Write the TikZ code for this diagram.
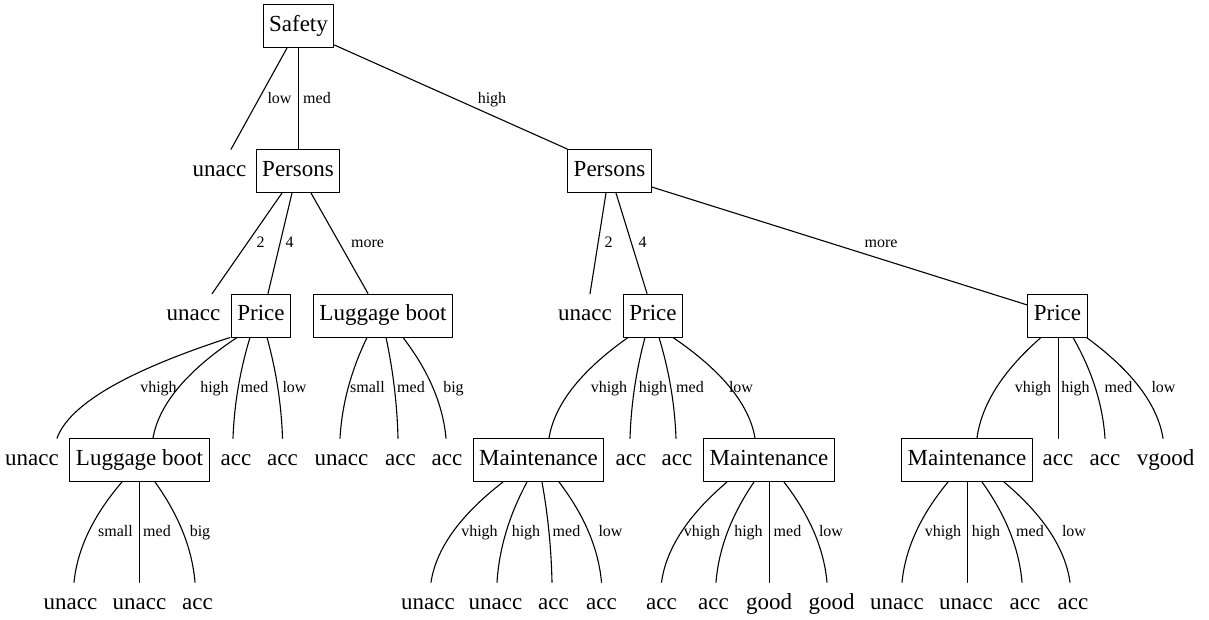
\documentclass[tikz,border=0pt]{standalone}
\usepackage{fontspec}
\setmainfont{Liberation Serif}
\usetikzlibrary{calc}
\newcommand{\bigtxt}{\fontsize{23}{26}\selectfont}
\newcommand{\smalltxt}{\fontsize{16}{18}\selectfont}
\tikzset{
  attr/.style={draw, line width=1pt, font=\bigtxt, minimum height=43pt, inner xsep=6pt, text height=16pt, text depth=6pt},
  leaf/.style={font=\bigtxt, minimum height=43pt, inner sep=0pt, text height=16pt, text depth=6pt},
  lbl/.style={font=\smalltxt, inner sep=0pt, text height=11pt, text depth=3pt},
  branch/.style={line width=1.1pt}
}
\begin{document}
\begin{tikzpicture}[x=1pt,y=-1pt,line join=round,line cap=round]
  \useasboundingbox (0,0) rectangle (1209,619);
  % attribute boxes
  \node[attr] (safety) at (298.5,26) {Safety};
  \node[attr] (persA) at (298,171) {Persons};
  \node[attr] (persB) at (609.5,171) {Persons};
  \node[attr] (priceA) at (261,315.5) {Price};
  \node[attr] (lugA) at (383,315.5) {Luggage boot};
  \node[attr] (priceB) at (653,315.5) {Price};
  \node[attr] (priceC) at (1057.5,315.5) {Price};
  \node[attr] (lugB) at (139.5,460) {Luggage boot};
  \node[attr] (mainA) at (538.5,460) {Maintenance};
  \node[attr] (mainB) at (769,460) {Maintenance};
  \node[attr] (mainC) at (967,460) {Maintenance};
  % class leaves
  \foreach \n/\lx/\ly/\t in {u1/219.5/171/unacc, u2a/193.5/315.5/unacc, u2b/585/315.5/unacc,
      u3a/32/460/unacc, a3a/236/460/acc, a3b/282.5/460/acc, u3b/341.5/460/unacc,
      a3c/400.5/460/acc, a3d/447/460/acc, a3e/631/460/acc, a3f/677/460/acc,
      a3g/1058/460/acc, a3h/1105/460/acc, vg/1165.5/460/vgood,
      u4a/70.5/604/unacc, u4b/139.5/604/unacc, a4a/197.5/604/acc,
      u4c/428/604/unacc, u4d/495.5/604/unacc, a4b/553.5/604/acc, a4c/601.5/604/acc,
      a4d/661.5/604/acc, a4e/713.5/604/acc, g4a/769/604/good, g4b/831.5/604/good,
      u4e/897/604/unacc, u4f/966/604/unacc, a4f/1025/604/acc, a4g/1073/604/acc}
    \node[leaf] (\n) at (\lx,\ly) {\t};
  % straight branches
  \foreach \src/\sa/\dst/\sb/\txt/\lx/\ly in {safety/-11.5/u1/11.5/low/279.5/99,
      safety/0/persA/0.5/med/317/99,
      persA/-16/u2a/18.5/2/260.5/243.5, persA/-6/priceA/7/4/289.5/243.5,
      persA/13/lugA/-15/more/367.5/243.5,
      persB/-3.5/u2b/5/2/608.5/243.5, persB/6.5/priceB/-6/4/642.5/243.5}
  {
    \draw[branch] ([xshift=\sa pt]\src.south) -- ([xshift=\sb pt]\dst.north);
    \node[lbl] (l-\dst) at (\lx,\ly) {\txt};
  }
  \draw[branch] ([yshift=3pt]safety.south east) -- (persB.north west);
  \node[lbl] (l-persB) at (492,99) {high};
  \draw[branch] ([yshift=6pt]persB.south east) -- ([yshift=10.5pt]priceC.west);
  \node[lbl] (l-priceC) at (881,243.5) {more};
  % curved branches
  \foreach \src/\sa/\dst/\sb/\txt/\lx/\ly in {
      priceA/-31/u3a/25/vhigh/158.5/388, priceA/-24/lugB/13.5/high/214.5/388,
      priceA/-11/a3a/-3/med/254.5/388, priceA/6/a3b/0/low/294.5/388,
      lugA/-16/u3b/-1.5/small/367.5/388, lugA/3/a3c/-2.5/med/411/388,
      lugA/20/a3d/-1/big/453.5/388,
      priceB/-25/mainA/10.5/vhigh/609/388, priceB/-8/a3e/-1/high/653/388,
      priceB/6/a3f/-1/med/690/388, priceB/20/mainB/-14/low/741/388,
      priceC/-16.5/mainC/10/vhigh/1033/388, priceC/1/a3g/0.5/high/1075.5/388,
      priceC/15.5/a3h/0/med/1118.5/388, priceC/29/vg/-2.5/low/1163.5/388,
      lugB/-17.5/u4a/3.5/small/115.5/532.5, lugB/0/u4b/0/med/157/532.5,
      lugB/15.5/a4a/-2.5/big/200/532.5,
      mainA/-35.5/u4c/3/vhigh/479.5/532.5, mainA/-11.5/u4d/1.5/high/526/532.5,
      mainA/3.5/a4b/-1.5/med/566.5/532.5, mainA/20.5/a4c/0/low/610.5/532.5,
      mainB/-42/a4d/0/vhigh/702/532.5, mainB/-15/a4e/2.5/high/748.5/532.5,
      mainB/0.5/g4a/0.5/med/787.5/532.5, mainB/15/g4b/-4.5/low/831/532.5,
      mainC/-19/u4e/5/vhigh/943/532.5, mainC/0.5/u4f/1.5/high/986/532.5,
      mainC/15/a4f/-3/med/1030/532.5, mainC/37/a4g/-3/low/1074/532.5}
  {
    \draw[branch] let \p1=([xshift=\sa pt]\src.south), \p2=([xshift=\sb pt]\dst.north) in
      (\p1) .. controls ({\x1+0.6*(\x2-\x1)},{\y1+(\y2-\y1)/3})
               and ({\x2+0.07*(\x1-\x2)},{\y2-(\y2-\y1)/3}) .. (\p2);
    \node[lbl] (l-\dst) at (\lx,\ly) {\txt};
  }
\end{tikzpicture}
\end{document}
